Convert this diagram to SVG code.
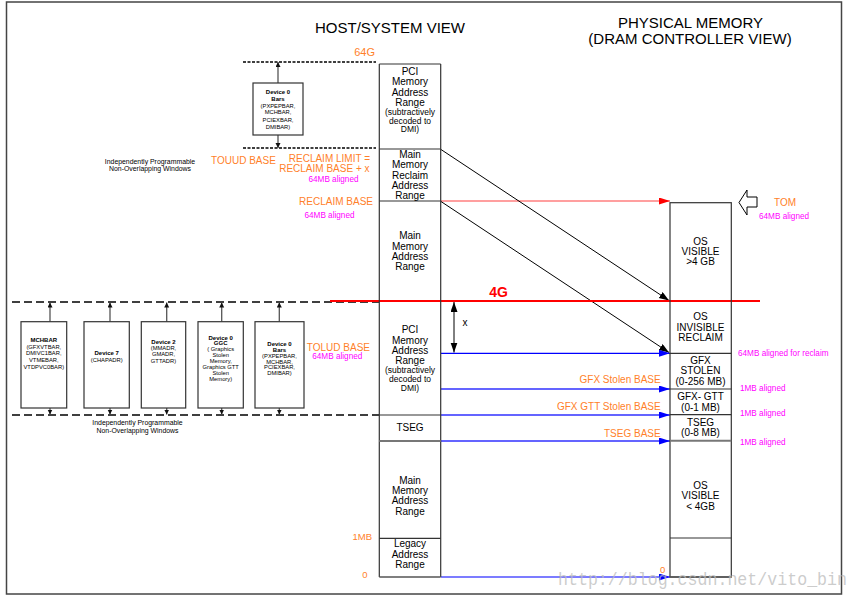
<svg xmlns="http://www.w3.org/2000/svg" width="859" height="600" viewBox="0 0 859 600">
<style>
text{font-family:"Liberation Sans",Arial,sans-serif}
.c{text-anchor:middle}
.e{text-anchor:end}
.title{font-size:15px;fill:#000}
.t10{font-size:10px;fill:#000;text-anchor:middle}
.t8{font-size:8.5px;fill:#000;text-anchor:middle}
.tn{font-size:5.8px;fill:#000;text-anchor:middle}
.tb{font-size:6px;font-weight:bold;fill:#000;text-anchor:middle}
.ind{font-size:6.9px;fill:#000;text-anchor:middle}
.or{font-size:10px;fill:#ff7f2a}
.mg{font-size:8.2px;fill:#ff00ff}
.box{fill:#fff;stroke:#333;stroke-width:1.2}
.ln{stroke:#333;stroke-width:1.2;fill:none}
.dash{stroke:#000;stroke-width:1.6;fill:none}
.dv{stroke:#555;stroke-width:1.3;fill:none}
</style>
<defs>
<marker id="ab" markerUnits="userSpaceOnUse" markerWidth="11" markerHeight="8" refX="10" refY="3.5" orient="auto-start-reverse"><path d="M0,0 L10,3.5 L0,7 z" fill="#000"/></marker>
<marker id="ar" markerUnits="userSpaceOnUse" markerWidth="12" markerHeight="8" refX="11" refY="3.5" orient="auto"><path d="M0,0 L11,3.5 L0,7 z" fill="#ff0000"/></marker>
<marker id="au" markerUnits="userSpaceOnUse" markerWidth="12" markerHeight="8" refX="11" refY="3.5" orient="auto"><path d="M0,0 L11,3.5 L0,7 z" fill="#0000ff"/></marker>
<marker id="as" markerUnits="userSpaceOnUse" markerWidth="6" markerHeight="6" refX="5" refY="2.5" orient="auto"><path d="M0,0 L5,2.5 L0,5 z" fill="#111"/></marker>
</defs>

<rect x="6.5" y="2" width="835" height="592" fill="#fff" stroke="#444" stroke-width="1.5"/>

<text class="title c" x="390" y="33">HOST/SYSTEM VIEW</text>
<text class="title c" x="690.5" y="28">PHYSICAL MEMORY</text>
<text class="title c" x="690" y="44">(DRAM CONTROLLER VIEW)</text>

<g id="connectors">
<line class="dash" x1="243" y1="62" x2="376" y2="62" stroke-dasharray="3,1.5"/>
<line class="dash" x1="243" y1="148" x2="376" y2="148" stroke-dasharray="3,1.5"/>
<line class="dash" x1="12" y1="302" x2="379" y2="302" stroke-dasharray="8,4"/>
<line class="dash" x1="12" y1="415" x2="379" y2="415" stroke-dasharray="8,4"/>
<line class="dv" x1="278" y1="83" x2="278" y2="62" marker-end="url(#as)"/>
<line class="dv" x1="278" y1="135" x2="278" y2="148" marker-end="url(#as)"/>
<line class="dv" x1="50" y1="321.7" x2="50" y2="302.5" marker-end="url(#as)"/>
<line class="dv" x1="50" y1="408" x2="50" y2="414.5" marker-end="url(#as)"/>
<line class="dv" x1="110" y1="321.7" x2="110" y2="302.5" marker-end="url(#as)"/>
<line class="dv" x1="110" y1="408" x2="110" y2="414.5" marker-end="url(#as)"/>
<line class="dv" x1="166.7" y1="321.7" x2="166.7" y2="302.5" marker-end="url(#as)"/>
<line class="dv" x1="166.7" y1="408" x2="166.7" y2="414.5" marker-end="url(#as)"/>
<line class="dv" x1="221.7" y1="321.7" x2="221.7" y2="302.5" marker-end="url(#as)"/>
<line class="dv" x1="221.7" y1="408" x2="221.7" y2="414.5" marker-end="url(#as)"/>
<line class="dv" x1="279.3" y1="321.7" x2="279.3" y2="302.5" marker-end="url(#as)"/>
<line class="dv" x1="279.3" y1="408" x2="279.3" y2="414.5" marker-end="url(#as)"/>
<line x1="441" y1="201" x2="670" y2="201" stroke="#ff4040" stroke-width="1.2" marker-end="url(#ar)"/>
<line x1="441" y1="149.5" x2="669" y2="300.5" stroke="#000" stroke-width="1" marker-end="url(#ab)"/>
<line x1="441" y1="201.5" x2="669" y2="352.5" stroke="#000" stroke-width="1" marker-end="url(#ab)"/>
<line x1="454" y1="302" x2="454" y2="352.5" stroke="#000" stroke-width="1" marker-start="url(#ab)" marker-end="url(#ab)"/>
<line x1="441" y1="353.3" x2="670" y2="353.3" stroke="#0000ff" stroke-width="1.3" marker-end="url(#au)"/>
<line x1="441" y1="389" x2="670" y2="389" stroke="#3030ff" stroke-width="1.5" marker-end="url(#au)"/>
<line x1="441" y1="415" x2="670" y2="415" stroke="#3030ff" stroke-width="1.5" marker-end="url(#au)"/>
<line x1="441" y1="441" x2="670" y2="441" stroke="#3030ff" stroke-width="1.5" marker-end="url(#au)"/>
<line x1="441" y1="577" x2="670" y2="577" stroke="#5050ff" stroke-width="1.5" marker-end="url(#au)"/>
<line x1="330" y1="301" x2="760" y2="301" stroke="#ff0000" stroke-width="2"/>
</g>

<g id="host-map">
<line class="ln" x1="379.3" y1="64" x2="440.7" y2="64"/>
<line class="ln" x1="379.3" y1="64" x2="379.3" y2="577"/>
<line class="ln" x1="440.7" y1="64" x2="440.7" y2="577"/>
<line class="ln" x1="379.3" y1="149" x2="440.7" y2="149"/>
<line class="ln" x1="379.3" y1="201" x2="440.7" y2="201"/>
<line class="ln" x1="379.3" y1="415" x2="440.7" y2="415"/>
<line x1="379.3" y1="441" x2="440.7" y2="441" stroke="#777" stroke-width="2"/>
<line class="ln" x1="379.3" y1="538.3" x2="440.7" y2="538.3"/>
<line x1="379.3" y1="577" x2="440.7" y2="577" stroke="#555" stroke-width="1.6"/>
</g>

<g id="host-pci-high">
<text class="t10" x="410" y="74.6">PCI</text>
<text class="t10" x="410" y="85">Memory</text>
<text class="t10" x="410" y="96">Address</text>
<text class="t10" x="410" y="106">Range</text>
<text class="t8" x="410" y="114.7">(subtractively</text>
<text class="t8" x="410" y="123.7">decoded to</text>
<text class="t8" x="410" y="132.3">DMI)</text>
</g>
<g id="host-reclaim">
<text class="t10" x="410" y="157.6">Main</text>
<text class="t10" x="410" y="168">Memory</text>
<text class="t10" x="410" y="178.6">Reclaim</text>
<text class="t10" x="410" y="188.6">Address</text>
<text class="t10" x="410" y="198.6">Range</text>
</g>
<g id="host-main-high">
<text class="t10" x="410" y="239.3">Main</text>
<text class="t10" x="410" y="250">Memory</text>
<text class="t10" x="410" y="260">Address</text>
<text class="t10" x="410" y="270">Range</text>
</g>
<g id="host-pci-low">
<text class="t10" x="410" y="333">PCI</text>
<text class="t10" x="410" y="344">Memory</text>
<text class="t10" x="410" y="354.3">Address</text>
<text class="t10" x="410" y="364.3">Range</text>
<text class="t8" x="410" y="373">(subtractively</text>
<text class="t8" x="410" y="381.7">decoded to</text>
<text class="t8" x="410" y="390.7">DMI)</text>
</g>
<g id="host-tseg">
<text class="t10" x="410" y="431">TSEG</text>
</g>
<g id="host-main-low">
<text class="t10" x="410" y="483.6">Main</text>
<text class="t10" x="410" y="494.3">Memory</text>
<text class="t10" x="410" y="504.3">Address</text>
<text class="t10" x="410" y="514.6">Range</text>
</g>
<g id="host-legacy">
<text class="t10" x="410" y="547">Legacy</text>
<text class="t10" x="410" y="558">Address</text>
<text class="t10" x="410" y="568.3">Range</text>
</g>

<g id="phys-map">
<rect x="670" y="202.7" width="61.3" height="374.3" fill="none" stroke="#333" stroke-width="1.2"/>
<line class="ln" x1="670" y1="353.3" x2="731.3" y2="353.3"/>
<line class="ln" x1="670" y1="389" x2="731.3" y2="389"/>
<line class="ln" x1="670" y1="414.7" x2="731.3" y2="414.7"/>
<line x1="670" y1="440.7" x2="731.3" y2="440.7" stroke="#777" stroke-width="2"/>
<line class="ln" x1="670" y1="538" x2="731.3" y2="538"/>
<line x1="670" y1="577" x2="731.3" y2="577" stroke="#555" stroke-width="1.6"/>
</g>
<g id="phys-os-high">
<text class="t10" x="700.5" y="245">OS</text>
<text class="t10" x="700.5" y="255">VISIBLE</text>
<text class="t10" x="700.5" y="265.3">&gt;4 GB</text>
</g>
<g id="phys-reclaim">
<text class="t10" x="700.5" y="320">OS</text>
<text class="t10" x="700.5" y="330.6">INVISIBLE</text>
<text class="t10" x="700.5" y="340.6">RECLAIM</text>
</g>
<g id="phys-gfx">
<text class="t10" x="700.5" y="364">GFX</text>
<text class="t10" x="700.5" y="374.3">STOLEN</text>
<text class="t10" x="700.5" y="384.6">(0-256 MB)</text>
</g>
<g id="phys-gtt">
<text class="t10" x="700.5" y="399.6">GFX- GTT</text>
<text class="t10" x="700.5" y="410.6">(0-1 MB)</text>
</g>
<g id="phys-tseg">
<text class="t10" x="700.5" y="426">TSEG</text>
<text class="t10" x="700.5" y="436">(0-8 MB)</text>
</g>
<g id="phys-os-low">
<text class="t10" x="700.5" y="489">OS</text>
<text class="t10" x="700.5" y="499">VISIBLE</text>
<text class="t10" x="700.5" y="509.6">&lt; 4GB</text>
</g>

<g id="dev0-bars-top">
<rect class="box" x="253" y="83" width="50" height="52"/>
<text class="tb" x="278" y="94.4">Device 0</text>
<text class="tb" x="278" y="101.1">Bars</text>
<text class="tn" x="278" y="107.8">(PXPEPBAR,</text>
<text class="tn" x="278" y="114.4">MCHBAR,</text>
<text class="tn" x="278" y="122.1">PCIEXBAR,</text>
<text class="tn" x="278" y="128.8">DMIBAR)</text>
</g>
<g id="mchbar">
<rect class="box" x="21" y="321.7" width="45.7" height="86.3"/>
<text class="tb" x="43.8" y="342.1">MCHBAR</text>
<text class="tn" x="43.8" y="348.8">(GFXVTBAR,</text>
<text class="tn" x="43.8" y="355.4">DMIVC1BAR,</text>
<text class="tn" x="43.8" y="362.4">VTMEBAR,</text>
<text class="tn" x="43.8" y="368.8">VTDPVC0BAR)</text>
</g>
<g id="device7">
<rect class="box" x="84" y="321.7" width="45.3" height="86.3"/>
<text class="tb" x="106.7" y="355.4">Device 7</text>
<text class="tn" x="106.7" y="362.1">(CHAPADR)</text>
</g>
<g id="device2">
<rect class="box" x="141.3" y="321.7" width="44.4" height="86.3"/>
<text class="tb" x="163.5" y="344.4">Device 2</text>
<text class="tn" x="163.5" y="350.4">(MMADR,</text>
<text class="tn" x="163.5" y="356.4">GMADR,</text>
<text class="tn" x="163.5" y="363.1">GTTADR)</text>
</g>
<g id="device0-ggc">
<rect class="box" x="198" y="321.7" width="45.3" height="86.3"/>
<text class="tb" x="220.7" y="339.8">Device 0</text>
<text class="tb" x="220.7" y="344.8">GGC</text>
<text class="tn" x="220.7" y="351.1">( Graphics</text>
<text class="tn" x="220.7" y="357.1">Stolen</text>
<text class="tn" x="220.7" y="363.1">Memory,</text>
<text class="tn" x="220.7" y="368.8">Graphics GTT</text>
<text class="tn" x="220.7" y="375.1">Stolen</text>
<text class="tn" x="220.7" y="381.1">Memory)</text>
</g>
<g id="device0-bars">
<rect class="box" x="255" y="321.7" width="49" height="86.3"/>
<text class="tb" x="279.5" y="346.4">Device 0</text>
<text class="tb" x="279.5" y="352.1">Bars</text>
<text class="tn" x="279.5" y="358.1">(PXPEPBAR,</text>
<text class="tn" x="279.5" y="363.8">MCHBAR,</text>
<text class="tn" x="279.5" y="369.4">PCIEXBAR,</text>
<text class="tn" x="279.5" y="375.4">DMIBAR)</text>
</g>

<g id="labels">
<text class="ind" x="150" y="163.5">Independently Programmable</text>
<text class="ind" x="150" y="171">Non-Overlapping Windows</text>
<text class="ind" x="137.5" y="425">Independently Programmable</text>
<text class="ind" x="137.5" y="432.5">Non-Overlapping Windows</text>
<text class="or e" x="375" y="56" style="font-size:11px">64G</text>
<text class="or" x="211" y="164">TOUUD BASE</text>
<text class="or e" x="370" y="161.7">RECLAIM LIMIT =</text>
<text class="or e" x="369.5" y="171.7">RECLAIM BASE + x</text>
<text class="mg c" x="333.5" y="182">64MB aligned</text>
<text class="or e" x="373" y="205">RECLAIM BASE</text>
<text class="mg c" x="329.5" y="217.5">64MB aligned</text>
<text x="498.5" y="297" style="font-size:14px;font-weight:bold;fill:#ff0000;text-anchor:middle">4G</text>
<text x="465" y="326" style="font-size:10px;fill:#000;text-anchor:middle">x</text>
<text class="or e" x="370" y="350.7">TOLUD BASE</text>
<text class="mg c" x="337.3" y="358.5">64MB aligned</text>
<text class="or e" x="372" y="540" style="font-size:9.5px">1MB</text>
<text class="or e" x="367.5" y="578.3" style="font-size:9.5px">0</text>
<text class="or e" x="660.7" y="383">GFX Stolen BASE</text>
<text class="or e" x="660.7" y="410">GFX GTT Stolen BASE</text>
<text class="or e" x="660.7" y="436.6">TSEG BASE</text>
<text class="or c" x="662.7" y="572.7" style="font-size:9.5px">0</text>
<text class="or" x="774" y="205.6">TOM</text>
<text class="mg" x="759" y="218.5">64MB aligned</text>
<text class="mg" x="738" y="356">64MB aligned for reclaim</text>
<text class="mg" x="740" y="390.5">1MB aligned</text>
<text class="mg" x="740" y="415.5">1MB aligned</text>
<text class="mg" x="740" y="444.5">1MB aligned</text>
</g>

<g id="tom-arrow">
<polygon points="739,202.5 747,190 747,197 757,197 757,207 747,207 747,215" fill="#fff" stroke="#000" stroke-width="1"/>
</g>

<text x="558" y="585" textLength="289" lengthAdjust="spacingAndGlyphs" style="font-family:'Liberation Mono','DejaVu Sans Mono',monospace;font-size:18px;fill:#bbb;fill-opacity:0.75">http://blog.csdn.net/vito_bin</text>
</svg>
